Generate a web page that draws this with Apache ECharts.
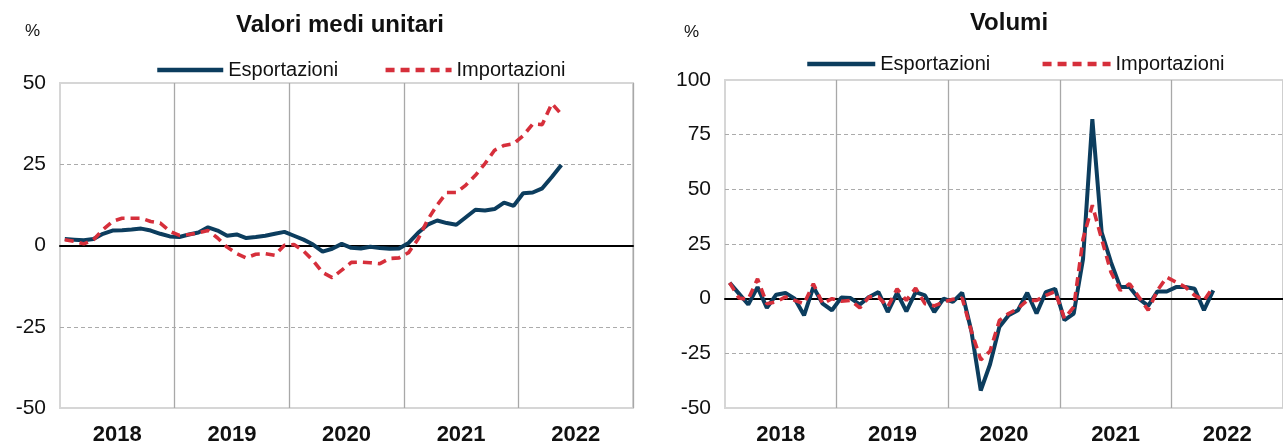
<!DOCTYPE html>
<html>
<head>
<meta charset="utf-8">
<script src="https://cdn.jsdelivr.net/npm/echarts@6/dist/echarts.min.js"></script>
<style>
html,body{margin:0;padding:0;background:#fff;}
#c{width:1283px;height:446px;}
</style>
</head>
<body>
<div id="c"></div>
<script>
// ---- data ----
const years = ['2018', '2019', '2020', '2021', '2022'];
const monthNames = ['gen','feb','mar','apr','mag','giu','lug','ago','set','ott','nov','dic'];
const seriesNames = ['Esportazioni', 'Importazioni'];
const titles = ['Valori medi unitari', 'Volumi'];

// Valori medi unitari (Jan 2018 - May 2022)
const uvExport = [2.0, 1.8, 1.6, 2.0, 3.6, 4.6, 4.7, 4.9, 5.2, 4.6, 3.6, 2.8,
  2.6, 3.4, 4.0, 5.6, 4.6, 3.0, 3.4, 2.3, 2.6, 3.0, 3.6, 4.2,
  3.0, 1.8, 0.3, -1.9, -1.0, 0.5, -0.7, -0.9, -0.4, -0.8, -1.0, -0.9,
  0.8, 3.9, 6.4, 7.7, 6.9, 6.4, 8.7, 11.0, 10.8, 11.2, 13.2, 12.2,
  16.1, 16.3, 17.6, 21.1, 24.8];
const uvImport = [1.8, 1.3, 0.5, 1.8, 4.9, 7.4, 8.4, 8.4, 8.4, 7.4, 6.9, 4.4,
  3.1, 3.4, 3.9, 4.6, 2.3, -0.5, -2.5, -3.8, -2.7, -2.5, -3.0, 0.1,
  0.3, -1.7, -4.6, -8.3, -9.9, -7.6, -5.2, -5.1, -5.3, -5.6, -4.0, -3.8,
  -2.2, 2.0, 7.9, 12.5, 16.3, 16.3, 18.6, 21.6, 25.2, 29.3, 30.8, 31.3,
  33.8, 37.4, 37.2, 43.7, 40.4];

// Volumi (Jan 2018 - May 2022)
const volExport = [7.3, 2.3, -2.7, 5.3, -4.2, 1.8, 2.6, 0.0, -7.6, 5.3, -2.3, -5.3,
  0.5, 0.3, -2.7, 0.8, 3.0, -6.1, 2.7, -5.8, 3.0, 1.5, -6.1, 0.0,
  -1.5, 2.7, -15.0, -42.0, -30.0, -13.0, -7.6, -5.3, 2.7, -6.8, 3.0, 4.5,
  -9.8, -6.8, 18.2, 82.1, 30.3, 16.7, 5.3, 5.3, 0.0, -3.3, 3.3, 3.3,
  5.3, 5.3, 4.5, -5.3, 3.8];
const volImport = [7.3, 0.3, -0.3, 9.1, -2.3, -1.5, 0.8, -0.8, -2.3, 6.8, -2.3, 0.0,
  -1.2, -0.8, -4.2, 0.8, 0.8, -3.8, 4.5, -0.8, 4.8, -2.3, -3.3, -1.5,
  -0.3, 0.3, -15.0, -28.0, -24.0, -10.0, -6.8, -4.5, -0.8, -0.8, 1.5, 3.3,
  -9.1, -3.8, 27.3, 42.7, 27.3, 12.1, 3.8, 6.8, 0.8, -5.3, 3.8, 9.8,
  7.6, 5.3, 1.5, -0.8, 5.3];

const leftTicks = {min: -50, max: 50, interval: 25};
const rightTicks = {min: -50, max: 100, interval: 25};

// ---- build ----
const months = [];
years.forEach(y => monthNames.forEach(m => months.push(m + ' ' + y)));

const FONT = "'Liberation Sans', Arial, sans-serif";
const EXP_COLOR = '#0c3d5e';
const IMP_COLOR = '#d62f3b';
const TXT = '#111';

function gridLineColors(t) {
  const arr = [];
  for (let v = t.min; v <= t.max; v += t.interval) {
    arr.push((v === t.min || v === t.max) ? 'rgba(0,0,0,0)' : '#ababab');
  }
  return arr;
}

function xAxesFor(gridIndex) {
  return [
    {
      type: 'category', gridIndex: gridIndex, data: months, boundaryGap: true,
      axisLine: {show: true, onZero: true, lineStyle: {color: '#000', width: 2}},
      axisTick: {show: false}, axisLabel: {show: false},
      splitLine: {show: true, interval: (i) => i % 12 === 0 && i > 0,
        lineStyle: {color: '#a8a8a8', width: 1.3}}
    },
    {
      type: 'category', gridIndex: gridIndex, data: years, boundaryGap: true, position: 'bottom',
      axisLine: {show: false, onZero: false}, axisTick: {show: false},
      splitLine: {show: false},
      axisLabel: {show: true, margin: 16, color: TXT, fontFamily: FONT, fontWeight: 'bold', fontSize: 22}
    }
  ];
}

function yAxisFor(gridIndex, t) {
  return {
    type: 'value', gridIndex: gridIndex, min: t.min, max: t.max, interval: t.interval,
    axisLine: {show: false}, axisTick: {show: false},
    axisLabel: {color: TXT, fontFamily: FONT, fontSize: 21, margin: 14},
    splitLine: {show: true, lineStyle: {color: gridLineColors(t), type: [4, 3], width: 1.2}}
  };
}

function lineSeries(name, data, xi, yi, isImport) {
  return {
    name: name, type: 'line', data: data, xAxisIndex: xi, yAxisIndex: yi,
    symbol: 'none', showSymbol: false, smooth: false, z: isImport ? 4 : 3,
    lineStyle: isImport
      ? {color: IMP_COLOR, width: 3.6, type: [9, 6]}
      : {color: EXP_COLOR, width: 4},
    itemStyle: {color: isImport ? IMP_COLOR : EXP_COLOR}
  };
}

function legendFor(left, top, w, gap) {
  return {
    data: seriesNames, left: left, top: top, itemWidth: w, itemHeight: 14, itemGap: gap,
    itemStyle: {opacity: 0},
    lineStyle: {width: 4.5},
    textStyle: {fontFamily: FONT, fontSize: 20, color: TXT}
  };
}

const chart = echarts.init(document.getElementById('c'), null, {renderer: 'canvas'});
chart.setOption({
  animation: false,
  backgroundColor: '#fff',
  title: [
    {text: titles[0], left: 335, top: 8, textAlign: 'center',
      textStyle: {fontFamily: FONT, fontWeight: 'bold', fontSize: 24, color: TXT}},
    {text: titles[1], left: 1004, top: 6, textAlign: 'center',
      textStyle: {fontFamily: FONT, fontWeight: 'bold', fontSize: 24, color: TXT}},
    {text: '%', left: 20, top: 18, textStyle: {fontFamily: FONT, fontWeight: 'normal', fontSize: 17, color: TXT}},
    {text: '%', left: 679, top: 19, textStyle: {fontFamily: FONT, fontWeight: 'normal', fontSize: 17, color: TXT}}
  ],
  legend: [
    legendFor(150, 55, 66, 45),
    legendFor(800, 49, 68, 50)
  ],
  grid: [
    {left: 60, top: 83, width: 573, height: 327, show: true, borderColor: '#d6d6d6', borderWidth: 2, backgroundColor: 'transparent'},
    {left: 725, top: 80, width: 570, height: 330, show: true, borderColor: '#d6d6d6', borderWidth: 2, backgroundColor: 'transparent'}
  ],
  xAxis: xAxesFor(0).concat(xAxesFor(1)),
  yAxis: [yAxisFor(0, leftTicks), yAxisFor(1, rightTicks)],
  series: [
    lineSeries(seriesNames[0], uvExport, 0, 0, false),
    lineSeries(seriesNames[1], uvImport, 0, 0, true),
    lineSeries(seriesNames[0], volExport, 2, 1, false),
    lineSeries(seriesNames[1], volImport, 2, 1, true)
  ]
});
</script>
</body>
</html>
